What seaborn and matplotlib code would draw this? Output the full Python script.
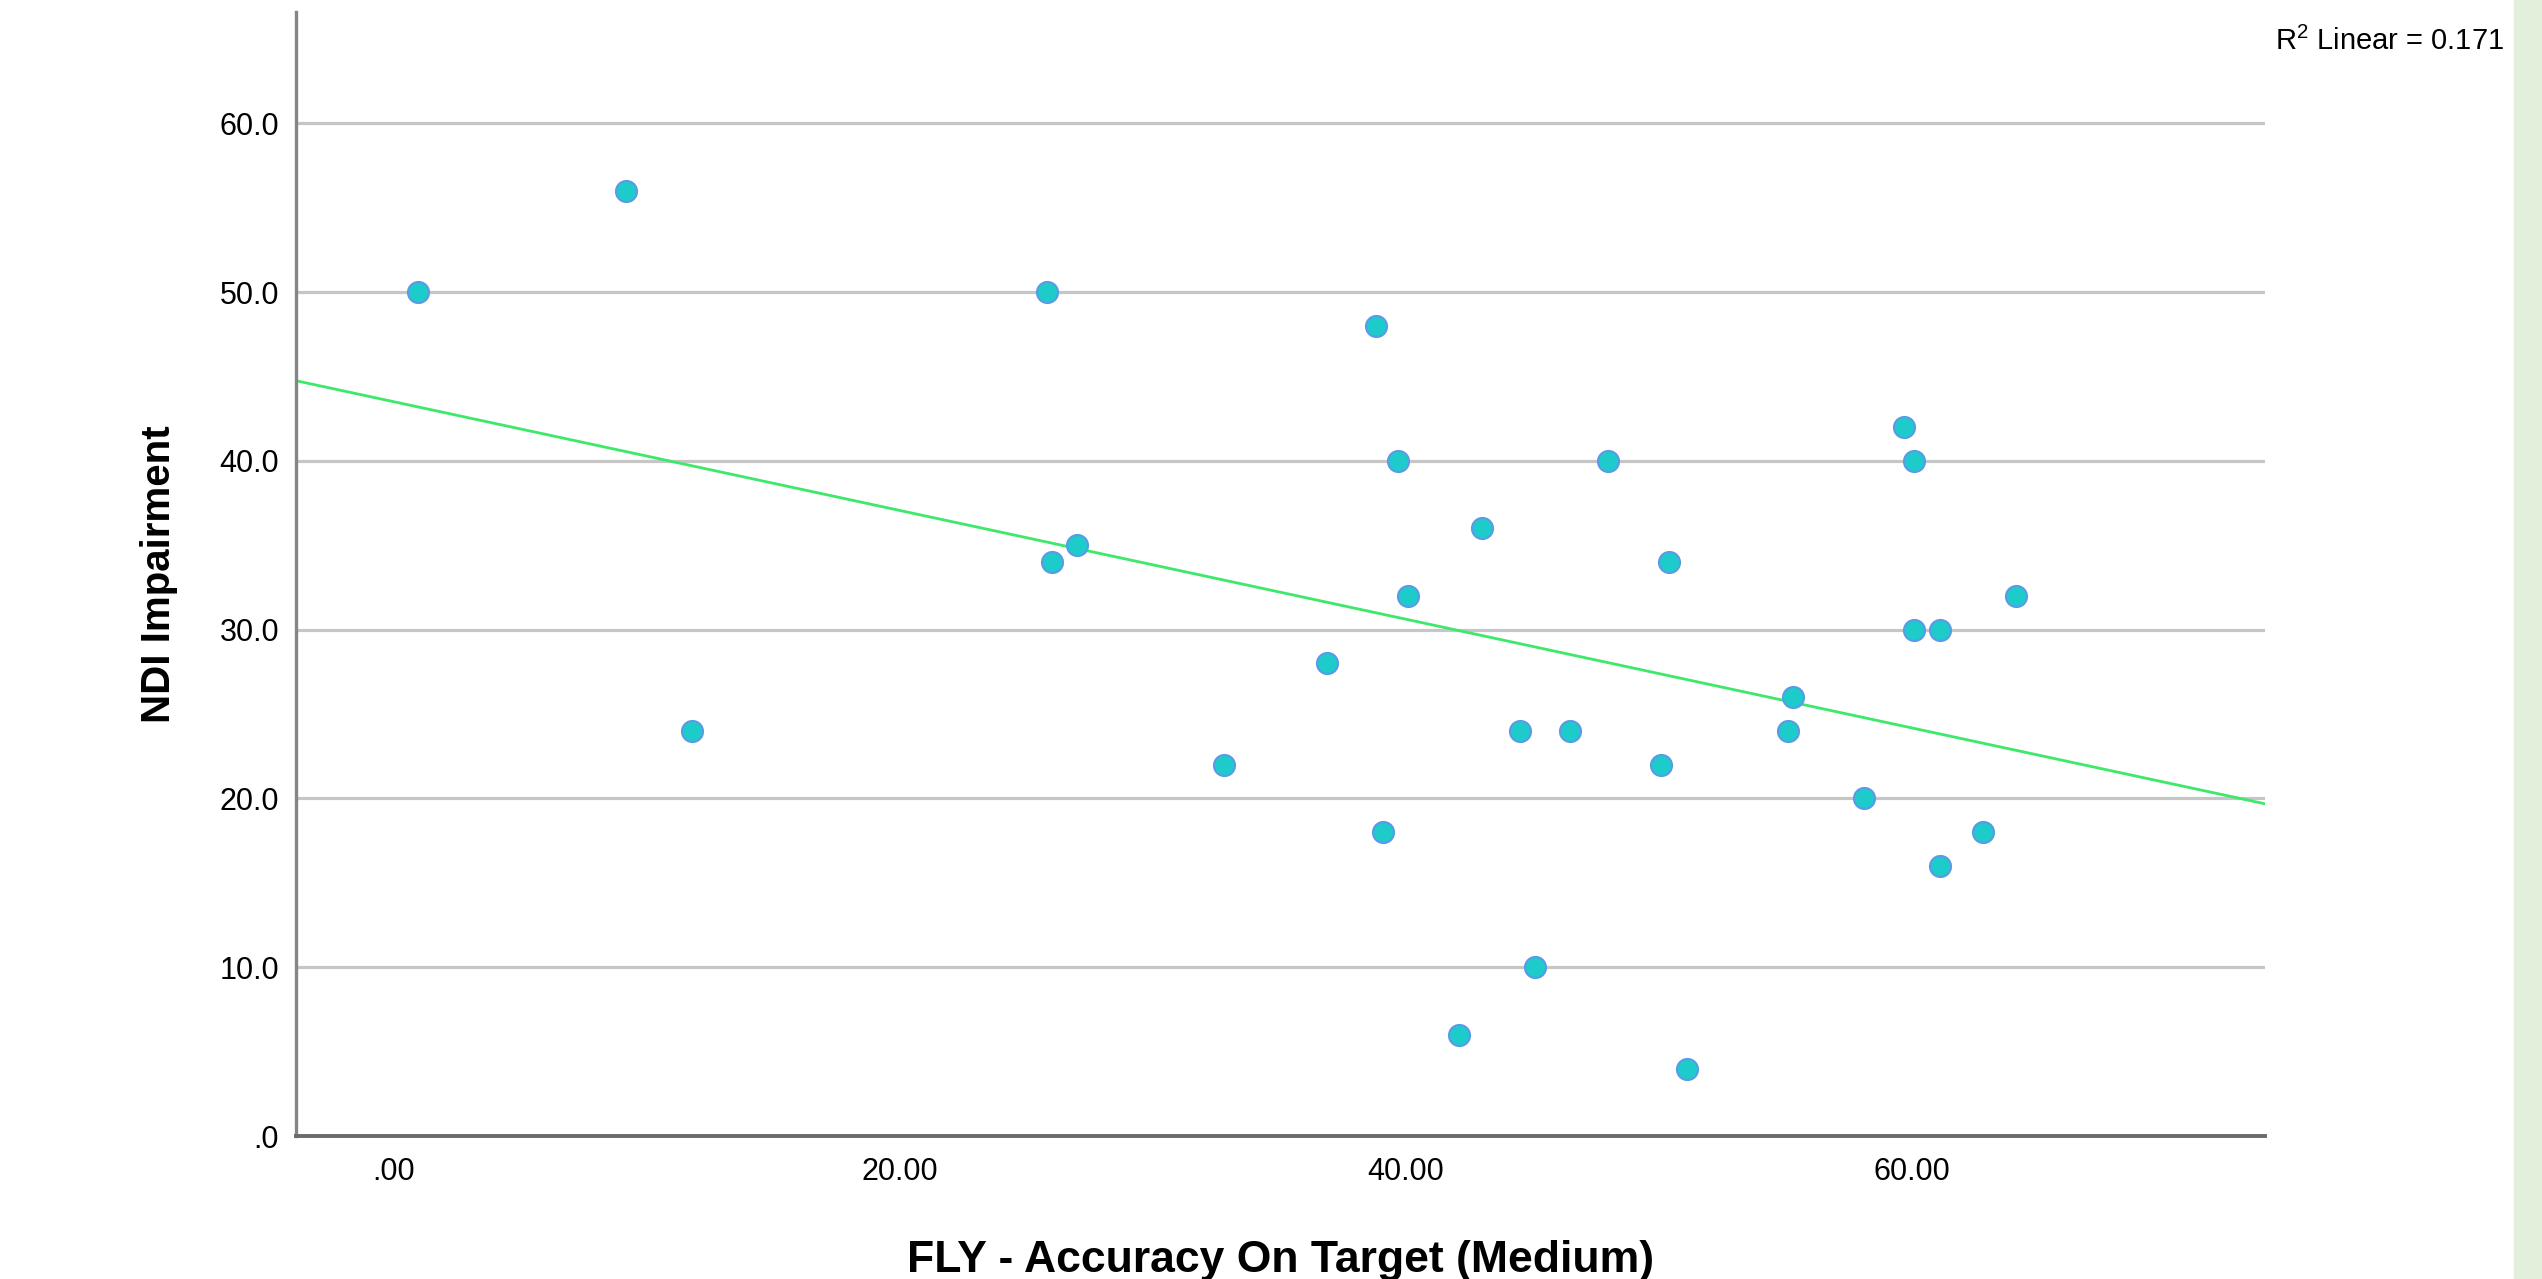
import pandas as pd
import seaborn as sns
import matplotlib.pyplot as plt

fly_accuracy = [0.96, 9.17, 11.8, 25.8, 26.0, 27.0, 32.8, 36.9, 38.8, 39.1,
                39.7, 40.1, 42.1, 43.0, 44.5, 45.1, 46.5, 48.0, 50.1, 50.4,
                51.1, 55.1, 55.3, 58.1, 59.7, 60.1, 60.1, 61.1, 61.1, 62.8, 64.1]
ndi_impairment = [50, 56, 24, 50, 34, 35, 22, 28, 48, 18,
                  40, 32, 6, 36, 24, 10, 24, 40, 22, 34,
                  4, 24, 26, 20, 42, 40, 30, 30, 16, 18, 32]
x_ticks = [0, 20, 40, 60]
x_labels = ['.00', '20.00', '40.00', '60.00']
y_ticks = [0, 10, 20, 30, 40, 50, 60]
y_labels = ['.0', '10.0', '20.0', '30.0', '40.0', '50.0', '60.0']
r2_text = 'R$^{2}$ Linear = 0.171'

data = pd.DataFrame({'fly': fly_accuracy, 'ndi': ndi_impairment})

sns.set_style('white')
plt.rcParams['font.family'] = ['Liberation Sans', 'DejaVu Sans']
plt.rcParams['mathtext.default'] = 'regular'
plt.rcParams['text.color'] = 'black'
plt.rcParams['axes.labelcolor'] = 'black'
plt.rcParams['xtick.color'] = 'black'
plt.rcParams['ytick.color'] = 'black'

fig = plt.figure(figsize=(25.42, 12.79), dpi=100)
ax = fig.add_axes([0.1164, 0.1118, 0.7746, 0.8788])

ax.set_xlim(-3.87, 73.95)
ax.set_ylim(0, 66.6)

# grid lines (no line at zero)
for y in y_ticks[1:]:
    ax.axhline(y, color='#c6c6c6', lw=2.3, zorder=0)

sns.regplot(data=data, x='fly', y='ndi', scatter=False, ci=None, truncate=False,
            color='#3de86a', line_kws={'lw': 2.0, 'zorder': 2}, ax=ax)
sns.scatterplot(data=data, x='fly', y='ndi', s=230, color='#1ecbcb',
                edgecolor='#5a9ae6', linewidth=1.5, zorder=3, ax=ax)

ax.set_xlim(-3.87, 73.95)
ax.set_ylim(0, 66.6)
ax.set_xticks(x_ticks)
ax.set_xticklabels(x_labels, fontsize=22)
ax.set_yticks(y_ticks)
ax.set_yticklabels(y_labels, fontsize=22)
ax.tick_params(axis='both', length=0)
ax.tick_params(axis='x', pad=15)
ax.tick_params(axis='y', pad=12)

ax.set_xlabel('FLY - Accuracy On Target (Medium)', fontsize=32, fontweight='bold', labelpad=38)
ax.set_ylabel('NDI Impairment', fontsize=29, fontweight='bold', labelpad=30)

for s in ['top', 'right']:
    ax.spines[s].set_visible(False)
ax.spines['left'].set_color('#858585')
ax.spines['left'].set_linewidth(2.4)
ax.spines['bottom'].set_color('#6a6a6a')
ax.spines['bottom'].set_linewidth(2.8)

fig.text(0.985, 0.968, r2_text, fontsize=21, ha='right', va='center')

# light green strip on the right edge
fig.patches.append(plt.Rectangle((2514 / 2542, 0), 1, 1, transform=fig.transFigure,
                                 color='#e2efda', zorder=0))

fig.savefig('out.png', dpi=100)
